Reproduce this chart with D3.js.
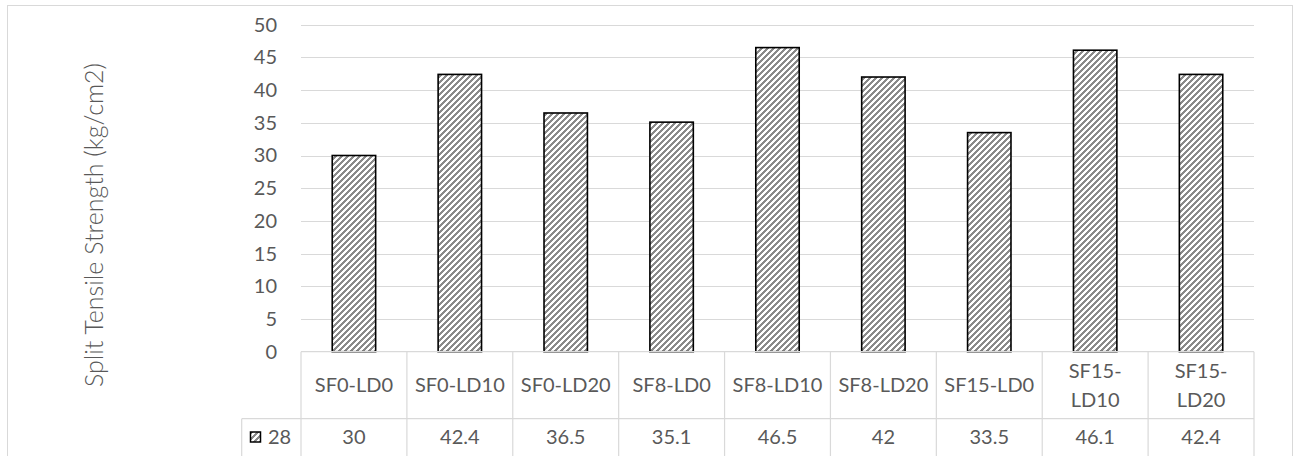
<!DOCTYPE html>
<html><head><meta charset="utf-8">
<script src="https://cdn.jsdelivr.net/npm/d3@7"></script>
<style>body{margin:0;background:#fff}svg{display:block;font-family:Lato,"Open Sans",sans-serif}</style>
</head><body>
<svg id="c" width="1297" height="456"></svg>
<script>
const categories = ["SF0-LD0","SF0-LD10","SF0-LD20","SF8-LD0","SF8-LD10","SF8-LD20","SF15-LD0","SF15-LD10","SF15-LD20"];
const categoryLines = [["SF0-LD0"],["SF0-LD10"],["SF0-LD20"],["SF8-LD0"],["SF8-LD10"],["SF8-LD20"],["SF15-LD0"],["SF15-","LD10"],["SF15-","LD20"]];
const values = [30, 42.4, 36.5, 35.1, 46.5, 42, 33.5, 46.1, 42.4];
const seriesName = "28";
const yTicks = [0,5,10,15,20,25,30,35,40,45,50];
const yTitle = "Split Tensile Strength (kg/cm2)";

const svg = d3.select("#c");
const L = 301, R = 1254, T = 24.7, B = 351.7;
const gridCol = "#d9d9d9", textCol = "#595959";
const FONT = "Lato,'Open Sans',sans-serif";

// pattern
const defs = svg.append("defs");
const pat = defs.append("pattern").attr("id","hatch").attr("patternUnits","userSpaceOnUse")
  .attr("width",6).attr("height",6);
pat.append("rect").attr("width",6).attr("height",6).attr("fill","#fff");
pat.append("path").attr("d","M0,6 L6,0 M-1,1 L1,-1 M5,7 L7,5")
  .attr("stroke","#8a8a8a").attr("stroke-width",2.1).attr("shape-rendering","crispEdges");

// outer border
svg.append("rect").attr("x",7.5).attr("y",5.5).attr("width",1285).attr("height",470)
  .attr("fill","none").attr("stroke",gridCol);

const x = d3.scaleBand().domain(categories).range([L,R]).padding(0);
const y = d3.scaleLinear().domain([0,50]).range([B,T]);

// gridlines
svg.append("g").selectAll("line").data(yTicks.filter(d=>d>0)).join("line")
  .attr("x1",L).attr("x2",R).attr("y1",d=>Math.round(y(d))+0.5).attr("y2",d=>Math.round(y(d))+0.5)
  .attr("stroke",gridCol).attr("stroke-width",1.2);

// y axis labels
const yAxis = d3.axisLeft(y).tickValues(yTicks).tickSize(0).tickPadding(0).tickFormat(d3.format("d"));
const ga = svg.append("g").attr("transform",`translate(${277},0)`).call(yAxis);
ga.select(".domain").remove();
ga.selectAll("text").attr("fill",textCol).style("font-size","20px").style("font-family",FONT);

// bars
const bw = x.bandwidth()*0.41;
svg.append("g").selectAll("rect").data(values).join("rect")
  .attr("x",(d,i)=>x(categories[i])+x.bandwidth()/2-bw/2)
  .attr("width",bw)
  .attr("y",d=>y(d)).attr("height",d=>y(0)-y(d))
  .attr("fill","url(#hatch)").attr("stroke","#000").attr("stroke-width",1.6);

// data table
const rowMid = 418.7, rowBot = 470, tblLeft = 241.7;
const tg = svg.append("g").attr("stroke",gridCol).attr("stroke-width",1.2);
tg.append("line").attr("x1",L).attr("x2",R).attr("y1",B).attr("y2",B);
tg.append("line").attr("x1",tblLeft).attr("x2",R).attr("y1",rowMid).attr("y2",rowMid);
tg.append("line").attr("x1",tblLeft).attr("x2",tblLeft).attr("y1",rowMid).attr("y2",rowBot);
tg.selectAll("line.v").data(categories).join("line").attr("class","v")
  .attr("x1",d=>x(d)).attr("x2",d=>x(d)).attr("y1",B).attr("y2",rowBot);
tg.append("line").attr("x1",R).attr("x2",R).attr("y1",B).attr("y2",rowBot);

// category labels
const cg = svg.append("g").attr("fill",textCol).style("font-size","20px").style("font-family",FONT).attr("text-anchor","middle");
categoryLines.forEach((lines,i)=>{
  const cx = x(categories[i])+x.bandwidth()/2;
  const cy = (B+rowMid)/2;
  const lh = 29;
  lines.forEach((t,j)=>{
    cg.append("text").attr("x",cx).attr("y",cy + (j-(lines.length-1)/2)*lh).attr("dy","0.35em").text(t);
  });
});
// values row
const vy = 437;
svg.append("g").attr("fill",textCol).style("font-size","20px").style("font-family",FONT).attr("text-anchor","middle")
  .selectAll("text").data(values).join("text")
  .attr("x",(d,i)=>x(categories[i])+x.bandwidth()/2).attr("y",vy).attr("dy","0.35em").text(d=>d);
// legend key
svg.append("rect").attr("x",250.5).attr("y",432).attr("width",10).attr("height",10)
  .attr("fill","url(#hatch)").attr("stroke","#000").attr("stroke-width",1.5);
svg.append("text").attr("x",268).attr("y",vy).attr("dy","0.35em").attr("fill",textCol)
  .style("font-size","20px").style("font-family",FONT).text(seriesName);

// y title
svg.append("text").attr("transform","translate(94,225) rotate(-90)").attr("text-anchor","middle")
  .attr("dy","0.35em").attr("fill",textCol).style("font-size","25px").style("font-weight","300")
  .style("font-family",FONT).text(yTitle);
</script>
</body></html>
